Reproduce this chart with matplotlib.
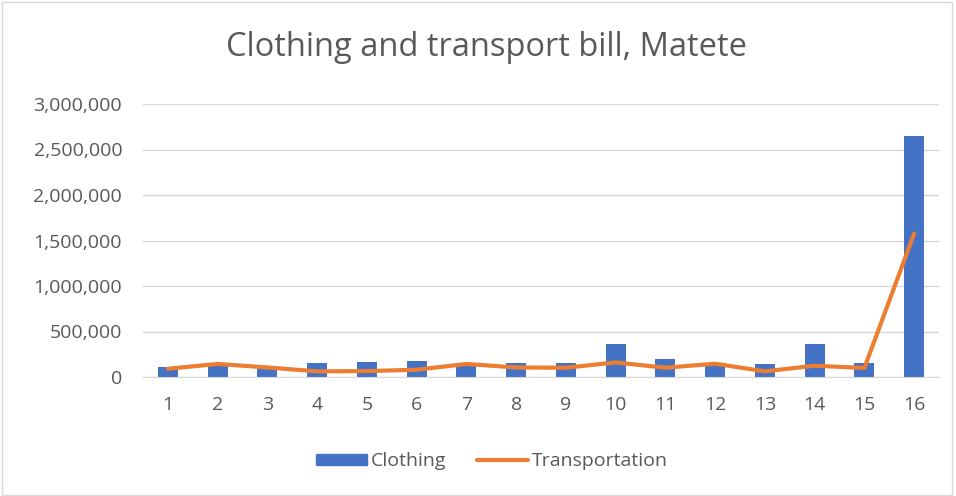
import numpy as np
import matplotlib.pyplot as plt
from matplotlib.patches import Rectangle, Patch
from matplotlib.lines import Line2D
from matplotlib.ticker import FuncFormatter

# values
categories = [str(i) for i in range(1, 17)]
clothing = [105000, 140000, 100000, 150000, 165000, 171000, 140000, 150000,
            150000, 362000, 197000, 140000, 143000, 362000, 150000, 2645000]
transportation = [91000, 143000, 105000, 62000, 65000, 80000, 143000, 105000,
                  102000, 160000, 102000, 146000, 62000, 124000, 99000, 1576000]

text_color = '#595959'
plt.rcParams['font.family'] = ['Open Sans', 'DejaVu Sans']

fig = plt.figure(figsize=(9.56, 4.96), dpi=100)
ax = fig.add_axes([143 / 956, 1 - 377 / 496, (939 - 143) / 956, (377 - 104) / 496])

x = np.arange(len(categories))
ax.bar(x, clothing, width=0.4, color='#4472C4', zorder=2)
ax.plot(x, transportation, color='#ED7D31', linewidth=3, solid_capstyle='round',
        solid_joinstyle='round', zorder=3)

ax.set_xlim(-0.5, len(categories) - 0.5)
ax.set_ylim(0, 3000000)
ax.set_yticks(np.arange(0, 3000001, 500000))
ax.yaxis.set_major_formatter(FuncFormatter(lambda v, p: f'{int(v):,}'))
ax.set_xticks(x)
ax.set_xticklabels(categories)

ax.grid(axis='y', color='#D9D9D9', linewidth=1, zorder=0)
for s in ['top', 'right', 'left']:
    ax.spines[s].set_visible(False)
ax.spines['bottom'].set_color('#D9D9D9')
ax.tick_params(length=0, labelsize=14, colors=text_color)
ax.tick_params(axis='y', pad=15)
ax.tick_params(axis='x', pad=14)

fig.text(487 / 956, 1 - 48 / 496, 'Clothing and transport bill, Matete', ha='center',
         va='center', fontsize=23.5, color=text_color)

handles = [Patch(color='#4472C4'),
           Line2D([0], [0], color='#ED7D31', linewidth=3, solid_capstyle='round')]
fig.legend(handles, ['Clothing', 'Transportation'], loc='center',
           bbox_to_anchor=(492 / 956, 1 - 461 / 496), ncol=2, frameon=False,
           fontsize=14, labelcolor=text_color, handlelength=2.6, handleheight=0.5,
           handletextpad=0.2, columnspacing=1.6)

fig.patches.append(Rectangle((0.002, 0.002), 0.994, 0.994, transform=fig.transFigure,
                             fill=False, edgecolor='#D9D9D9', linewidth=1))

fig.savefig('out.png', dpi=100)
